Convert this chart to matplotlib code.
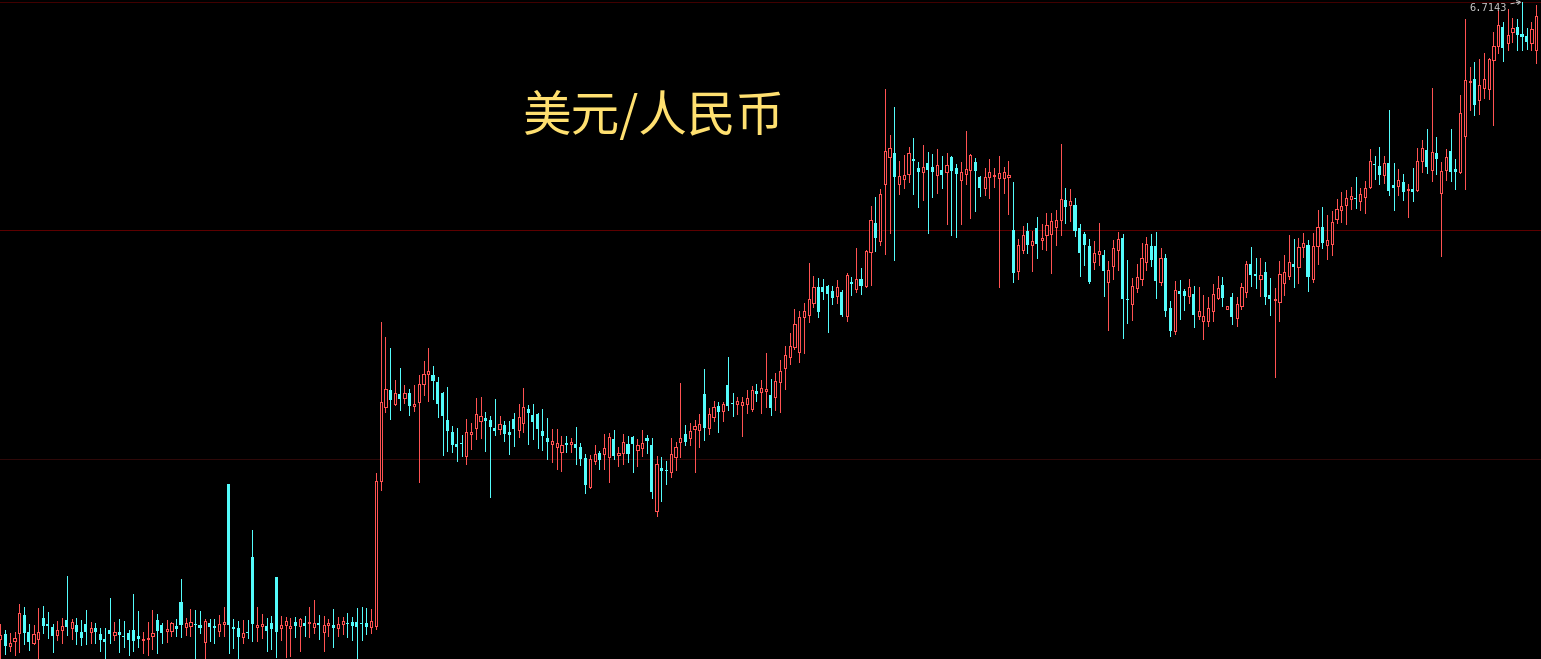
import numpy as np
import matplotlib
matplotlib.use("Agg")
import matplotlib.pyplot as plt

title = "美元/人民币"

open_ = [
 6.077, 6.082, 6.070, 6.075, 6.083, 6.101, 6.084, 6.073, 6.077, 6.098,
 6.092, 6.089, 6.081, 6.086, 6.096, 6.088, 6.091, 6.084, 6.092, 6.084,
 6.088, 6.082, 6.077, 6.086, 6.081, 6.084, 6.080, 6.083, 6.086, 6.080,
 6.076, 6.077, 6.080, 6.096, 6.091, 6.085, 6.085, 6.090, 6.114, 6.089,
 6.090, 6.092, 6.091, 6.074, 6.093, 6.090, 6.085, 6.092, 6.232, 6.089,
 6.088, 6.079, 6.084, 6.159, 6.089, 6.090, 6.090, 6.093, 6.139, 6.088,
 6.091, 6.088, 6.094, 6.090, 6.093, 6.093, 6.089, 6.093, 6.084, 6.091,
 6.091, 6.088, 6.092, 6.093, 6.094, 6.094, 6.093, 6.093, 6.089, 6.090,
 6.235, 6.309, 6.326, 6.312, 6.322, 6.318, 6.323, 6.310, 6.314, 6.332,
 6.342, 6.341, 6.334, 6.323, 6.296, 6.284, 6.272, 6.273, 6.260, 6.282,
 6.288, 6.295, 6.298, 6.296, 6.288, 6.287, 6.291, 6.284, 6.297, 6.286,
 6.293, 6.307, 6.301, 6.302, 6.285, 6.278, 6.272, 6.269, 6.264, 6.273,
 6.272, 6.272, 6.269, 6.258, 6.229, 6.255, 6.263, 6.262, 6.259, 6.277,
 6.261, 6.263, 6.272, 6.279, 6.266, 6.268, 6.278, 6.271, 6.205, 6.248,
 6.246, 6.244, 6.259, 6.274, 6.282, 6.278, 6.287, 6.286, 6.322, 6.288,
 6.299, 6.310, 6.305, 6.331, 6.313, 6.312, 6.311, 6.312, 6.307, 6.325,
 6.324, 6.325, 6.321, 6.319, 6.334, 6.348, 6.359, 6.369, 6.364, 6.399,
 6.401, 6.413, 6.429, 6.429, 6.430, 6.425, 6.420, 6.424, 6.400, 6.434,
 6.427, 6.437, 6.430, 6.464, 6.493, 6.475, 6.532, 6.559, 6.563, 6.532,
 6.537, 6.542, 6.557, 6.548, 6.544, 6.553, 6.549, 6.541, 6.546, 6.544,
 6.559, 6.548, 6.536, 6.542, 6.546, 6.554, 6.539, 6.528, 6.539, 6.540,
 6.538, 6.538, 6.539, 6.486, 6.445, 6.466, 6.485, 6.471, 6.488, 6.476,
 6.481, 6.482, 6.489, 6.496, 6.516, 6.511, 6.511, 6.488, 6.482, 6.470,
 6.454, 6.462, 6.461, 6.434, 6.450, 6.466, 6.478, 6.417, 6.412, 6.428,
 6.437, 6.454, 6.470, 6.470, 6.434, 6.458, 6.408, 6.385, 6.425, 6.425,
 6.420, 6.422, 6.400, 6.395, 6.395, 6.405, 6.418, 6.431, 6.407, 6.419,
 6.398, 6.410, 6.424, 6.452, 6.442, 6.437, 6.444, 6.421, 6.416, 6.414,
 6.433, 6.440, 6.452, 6.449, 6.469, 6.471, 6.437, 6.470, 6.489, 6.471,
 6.472, 6.497, 6.506, 6.511, 6.517, 6.518, 6.515, 6.519, 6.529, 6.552,
 6.550, 6.541, 6.553, 6.531, 6.530, 6.534, 6.526, 6.527, 6.526, 6.555,
 6.566, 6.546, 6.563, 6.523, 6.546, 6.565, 6.547, 6.544, 6.580, 6.634,
 6.637, 6.616, 6.628, 6.627, 6.656, 6.670, 6.689, 6.673, 6.684, 6.689,
 6.682, 6.680, 6.673, 6.666,
]

high = [
 6.092, 6.086, 6.083, 6.084, 6.112, 6.109, 6.092, 6.091, 6.108, 6.110,
 6.104, 6.092, 6.095, 6.098, 6.140, 6.097, 6.098, 6.096, 6.106, 6.094,
 6.093, 6.088, 6.088, 6.118, 6.094, 6.097, 6.095, 6.086, 6.122, 6.105,
 6.084, 6.094, 6.106, 6.102, 6.093, 6.096, 6.094, 6.097, 6.137, 6.098,
 6.107, 6.106, 6.105, 6.097, 6.097, 6.097, 6.101, 6.109, 6.232, 6.097,
 6.095, 6.096, 6.096, 6.186, 6.109, 6.102, 6.098, 6.100, 6.139, 6.100,
 6.099, 6.098, 6.099, 6.098, 6.100, 6.109, 6.116, 6.101, 6.100, 6.097,
 6.107, 6.099, 6.099, 6.103, 6.099, 6.108, 6.109, 6.108, 6.107, 6.243,
 6.394, 6.379, 6.368, 6.336, 6.348, 6.331, 6.327, 6.331, 6.341, 6.355,
 6.368, 6.350, 6.339, 6.324, 6.329, 6.290, 6.288, 6.281, 6.297, 6.293,
 6.318, 6.319, 6.304, 6.300, 6.317, 6.300, 6.295, 6.295, 6.303, 6.312,
 6.328, 6.311, 6.312, 6.303, 6.307, 6.298, 6.287, 6.287, 6.280, 6.280,
 6.278, 6.289, 6.273, 6.262, 6.261, 6.271, 6.265, 6.282, 6.283, 6.286,
 6.269, 6.282, 6.280, 6.280, 6.277, 6.286, 6.281, 6.278, 6.260, 6.259,
 6.255, 6.278, 6.274, 6.333, 6.291, 6.293, 6.296, 6.302, 6.347, 6.308,
 6.315, 6.314, 6.314, 6.359, 6.323, 6.319, 6.319, 6.326, 6.330, 6.332,
 6.336, 6.363, 6.337, 6.343, 6.356, 6.370, 6.383, 6.407, 6.405, 6.413,
 6.453, 6.440, 6.438, 6.437, 6.431, 6.430, 6.436, 6.426, 6.443, 6.439,
 6.468, 6.448, 6.466, 6.510, 6.519, 6.527, 6.627, 6.581, 6.609, 6.555,
 6.561, 6.569, 6.578, 6.554, 6.571, 6.564, 6.562, 6.567, 6.560, 6.563,
 6.560, 6.552, 6.554, 6.585, 6.562, 6.558, 6.540, 6.548, 6.557, 6.548,
 6.560, 6.549, 6.555, 6.534, 6.477, 6.490, 6.493, 6.485, 6.499, 6.492,
 6.503, 6.503, 6.506, 6.572, 6.528, 6.527, 6.518, 6.492, 6.484, 6.477,
 6.475, 6.493, 6.466, 6.455, 6.476, 6.484, 6.482, 6.456, 6.438, 6.452,
 6.473, 6.479, 6.482, 6.484, 6.468, 6.462, 6.415, 6.435, 6.436, 6.427,
 6.437, 6.430, 6.429, 6.421, 6.419, 6.432, 6.440, 6.439, 6.410, 6.423,
 6.419, 6.433, 6.455, 6.469, 6.458, 6.458, 6.454, 6.438, 6.428, 6.455,
 6.461, 6.481, 6.477, 6.478, 6.483, 6.476, 6.483, 6.506, 6.509, 6.501,
 6.505, 6.517, 6.524, 6.526, 6.529, 6.539, 6.528, 6.535, 6.567, 6.560,
 6.569, 6.560, 6.606, 6.553, 6.547, 6.542, 6.532, 6.548, 6.568, 6.576,
 6.587, 6.628, 6.579, 6.554, 6.567, 6.587, 6.557, 6.621, 6.697, 6.649,
 6.654, 6.657, 6.663, 6.658, 6.684, 6.706, 6.694, 6.707, 6.698, 6.697,
 6.7143, 6.688, 6.694, 6.711,
]

low = [
 6.051, 6.062, 6.065, 6.061, 6.064, 6.072, 6.066, 6.072, 6.057, 6.083,
 6.078, 6.064, 6.076, 6.073, 6.081, 6.077, 6.072, 6.071, 6.072, 6.073,
 6.073, 6.065, 6.057, 6.073, 6.076, 6.064, 6.069, 6.061, 6.065, 6.069,
 6.063, 6.061, 6.067, 6.063, 6.073, 6.074, 6.080, 6.080, 6.079, 6.081,
 6.080, 6.057, 6.083, 6.058, 6.075, 6.073, 6.080, 6.080, 6.063, 6.068,
 6.057, 6.073, 6.078, 6.075, 6.075, 6.078, 6.065, 6.067, 6.059, 6.076,
 6.059, 6.060, 6.079, 6.065, 6.080, 6.079, 6.083, 6.077, 6.065, 6.080,
 6.069, 6.080, 6.082, 6.079, 6.076, 6.057, 6.076, 6.082, 6.083, 6.087,
 6.226, 6.304, 6.297, 6.311, 6.306, 6.313, 6.301, 6.305, 6.234, 6.321,
 6.315, 6.317, 6.299, 6.261, 6.265, 6.264, 6.255, 6.260, 6.252, 6.267,
 6.277, 6.278, 6.265, 6.219, 6.281, 6.282, 6.275, 6.262, 6.270, 6.279,
 6.284, 6.272, 6.277, 6.268, 6.266, 6.257, 6.254, 6.247, 6.245, 6.264,
 6.264, 6.252, 6.251, 6.223, 6.228, 6.252, 6.247, 6.247, 6.234, 6.257,
 6.250, 6.252, 6.254, 6.244, 6.250, 6.260, 6.263, 6.218, 6.200, 6.215,
 6.232, 6.239, 6.246, 6.259, 6.271, 6.271, 6.244, 6.269, 6.276, 6.282,
 6.295, 6.284, 6.295, 6.306, 6.300, 6.302, 6.280, 6.303, 6.305, 6.315,
 6.303, 6.309, 6.301, 6.306, 6.304, 6.327, 6.352, 6.367, 6.354, 6.363,
 6.394, 6.409, 6.399, 6.417, 6.384, 6.412, 6.413, 6.400, 6.395, 6.421,
 6.424, 6.422, 6.429, 6.431, 6.465, 6.471, 6.462, 6.483, 6.456, 6.522,
 6.528, 6.534, 6.522, 6.509, 6.516, 6.483, 6.519, 6.523, 6.528, 6.492,
 6.481, 6.479, 6.492, 6.532, 6.498, 6.505, 6.520, 6.521, 6.518, 6.529,
 6.429, 6.523, 6.502, 6.434, 6.437, 6.463, 6.463, 6.445, 6.458, 6.467,
 6.466, 6.443, 6.471, 6.481, 6.493, 6.495, 6.480, 6.440, 6.451, 6.433,
 6.447, 6.451, 6.420, 6.386, 6.437, 6.446, 6.378, 6.393, 6.396, 6.424,
 6.431, 6.446, 6.450, 6.418, 6.431, 6.400, 6.380, 6.382, 6.397, 6.406,
 6.413, 6.389, 6.397, 6.377, 6.390, 6.395, 6.417, 6.410, 6.407, 6.392,
 6.390, 6.407, 6.419, 6.430, 6.428, 6.420, 6.412, 6.401, 6.339, 6.395,
 6.421, 6.437, 6.429, 6.433, 6.459, 6.425, 6.434, 6.452, 6.468, 6.457,
 6.461, 6.493, 6.494, 6.492, 6.507, 6.508, 6.506, 6.503, 6.528, 6.537,
 6.532, 6.533, 6.521, 6.506, 6.521, 6.516, 6.499, 6.515, 6.525, 6.544,
 6.543, 6.535, 6.542, 6.460, 6.536, 6.535, 6.527, 6.543, 6.527, 6.606,
 6.601, 6.602, 6.618, 6.617, 6.591, 6.663, 6.655, 6.666, 6.674, 6.666,
 6.666, 6.667, 6.666, 6.653,
]

close = [
 6.081, 6.070, 6.073, 6.078, 6.103, 6.083, 6.074, 6.082, 6.084, 6.090,
 6.090, 6.080, 6.086, 6.090, 6.089, 6.094, 6.084, 6.078, 6.084, 6.088,
 6.084, 6.076, 6.074, 6.082, 6.084, 6.081, 6.079, 6.076, 6.075, 6.077,
 6.077, 6.078, 6.083, 6.085, 6.083, 6.087, 6.093, 6.087, 6.091, 6.093,
 6.094, 6.091, 6.088, 6.095, 6.089, 6.088, 6.092, 6.094, 6.091, 6.087,
 6.079, 6.083, 6.083, 6.092, 6.091, 6.092, 6.085, 6.087, 6.084, 6.091,
 6.095, 6.090, 6.090, 6.097, 6.090, 6.094, 6.093, 6.091, 6.091, 6.093,
 6.088, 6.092, 6.095, 6.092, 6.090, 6.089, 6.092, 6.089, 6.095, 6.235,
 6.314, 6.327, 6.316, 6.323, 6.317, 6.323, 6.310, 6.312, 6.332, 6.342,
 6.345, 6.335, 6.312, 6.300, 6.285, 6.271, 6.269, 6.272, 6.284, 6.284,
 6.302, 6.300, 6.295, 6.289, 6.285, 6.292, 6.282, 6.281, 6.287, 6.299,
 6.309, 6.303, 6.294, 6.287, 6.280, 6.274, 6.275, 6.273, 6.271, 6.271,
 6.274, 6.268, 6.257, 6.231, 6.257, 6.262, 6.256, 6.268, 6.279, 6.260,
 6.263, 6.274, 6.262, 6.272, 6.271, 6.273, 6.275, 6.224, 6.252, 6.245,
 6.245, 6.262, 6.269, 6.278, 6.274, 6.285, 6.290, 6.292, 6.288, 6.302,
 6.309, 6.304, 6.312, 6.310, 6.312, 6.315, 6.314, 6.318, 6.326, 6.322,
 6.328, 6.327, 6.308, 6.335, 6.345, 6.361, 6.370, 6.392, 6.399, 6.405,
 6.417, 6.429, 6.404, 6.424, 6.422, 6.418, 6.429, 6.401, 6.441, 6.432,
 6.437, 6.430, 6.465, 6.496, 6.478, 6.522, 6.565, 6.568, 6.539, 6.540,
 6.541, 6.563, 6.555, 6.544, 6.549, 6.546, 6.544, 6.551, 6.541, 6.551,
 6.545, 6.542, 6.544, 6.547, 6.561, 6.545, 6.528, 6.539, 6.544, 6.541,
 6.543, 6.544, 6.541, 6.443, 6.471, 6.481, 6.471, 6.475, 6.472, 6.478,
 6.491, 6.495, 6.496, 6.517, 6.509, 6.515, 6.485, 6.463, 6.471, 6.434,
 6.463, 6.465, 6.445, 6.446, 6.468, 6.477, 6.417, 6.416, 6.430, 6.439,
 6.458, 6.472, 6.456, 6.435, 6.458, 6.405, 6.385, 6.426, 6.422, 6.420,
 6.429, 6.401, 6.405, 6.400, 6.408, 6.422, 6.428, 6.418, 6.410, 6.399,
 6.412, 6.429, 6.452, 6.441, 6.440, 6.441, 6.419, 6.417, 6.417, 6.442,
 6.444, 6.454, 6.449, 6.469, 6.473, 6.439, 6.470, 6.489, 6.473, 6.476,
 6.494, 6.507, 6.510, 6.518, 6.520, 6.517, 6.522, 6.528, 6.555, 6.551,
 6.541, 6.553, 6.525, 6.528, 6.536, 6.524, 6.527, 6.524, 6.555, 6.568,
 6.549, 6.564, 6.557, 6.545, 6.559, 6.544, 6.544, 6.603, 6.636, 6.635,
 6.611, 6.631, 6.637, 6.657, 6.670, 6.691, 6.668, 6.681, 6.688, 6.681,
 6.679, 6.674, 6.687, 6.700,
]

UP = "#ff5252"
DOWN = "#54fcfc"

o = np.array(open_)
h = np.array(high)
l = np.array(low)
c = np.array(close)
n = len(o)
x = np.arange(n)
up = c >= o
dn = ~up

W, H = 1541, 659
fig = plt.figure(figsize=(W / 100, H / 100), dpi=100, facecolor="black")
ax = fig.add_axes([0, 0, 1, 1])
ax.set_facecolor("black")
ax.set_axis_off()

ax.set_xlim(-0.06, 324.0)
ax.set_ylim(6.057, 6.716)

px = 0.72  # one pixel in points

# reference lines
ax.axhline(6.7145, color="#400000", lw=px, zorder=0, antialiased=False)
ax.axhline(6.486, color="#5c0000", lw=px, zorder=0, antialiased=False)
ax.axhline(6.257, color="#2e0808", lw=px, zorder=0, antialiased=False)

colors = np.where(up, UP, DOWN)
ax.vlines(x, l, h, colors=list(colors), lw=px, zorder=2, antialiased=False)

# up candles: hollow red
hu = np.maximum(c[up] - o[up], 0.0004)
ax.bar(x[up], hu, bottom=o[up], width=0.46, facecolor="black",
       edgecolor=UP, linewidth=px, zorder=3, antialiased=False)
# down candles: filled cyan
hd = np.maximum(o[dn] - c[dn], 0.0008)
ax.bar(x[dn], hd, bottom=c[dn], width=0.64, color=DOWN,
       linewidth=0, zorder=3, antialiased=False)

# max label
imax = int(np.argmax(h))
ax.annotate(f"{h[imax]:.4f}", xy=(imax, h[imax]), xytext=(-11, -4.5),
            textcoords="offset points", ha="right", va="center",
            fontsize=7.5, family="DejaVu Sans Mono", color="#c8c8c8",
            arrowprops=dict(arrowstyle="->", color="#c8c8c8", lw=0.7,
                            ls="--", shrinkA=1, shrinkB=0), zorder=5)

fig.text(654 / W, 1 - 117 / H, title, fontsize=35, color="#ffe070",
         family=["Noto Sans CJK SC", "DejaVu Sans"], ha="center", va="center")

fig.savefig("out.png", dpi=100, facecolor="black")
